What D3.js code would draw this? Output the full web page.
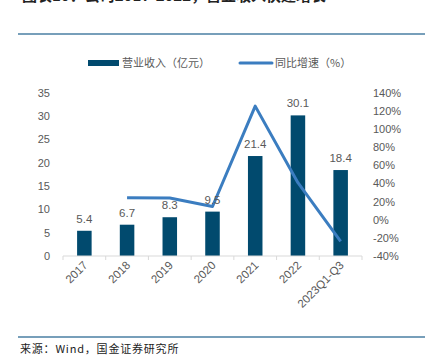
<!doctype html>
<html>
  <head>
    <meta charset="utf-8">
    <script src="https://cdnjs.cloudflare.com/ajax/libs/d3/7.8.5/d3.min.js"></script>
    <style>
      body { margin: 0; background: #fff; }
      svg { display: block; }
      text { font-family: "Liberation Sans", Arial, "Noto Sans CJK SC", sans-serif; fill: #595959; font-size: 11px; }
      .cjk { font-family: "Noto Sans CJK SC", sans-serif; }
    </style>
  </head>
  <body>
    <svg width="425" height="363"></svg>
    <script>
      var categories = ["2017", "2018", "2019", "2020", "2021", "2022", "2023Q1-Q3"];
      var revenue = [5.4, 6.7, 8.3, 9.5, 21.4, 30.1, 18.4];
      var growth = [null, 24.1, 23.9, 14.5, 125.0, 40.7, -24.0];
      var leftTicks = [0, 5, 10, 15, 20, 25, 30, 35];
      var rightTicks = [-40, -20, 0, 20, 40, 60, 80, 100, 120, 140];

      var svg = d3.select("svg");

      // title (cut off at the top in the source) and frame lines
      svg.append("text").attr("class", "cjk").attr("x", 22).attr("y", 1)
        .style("font-size", "15px").style("font-weight", "bold").style("fill", "#222")
        .text("图表10：公司2017-2022，营业收入快速增长");
      svg.append("line").attr("x1", 18).attr("x2", 425).attr("y1", 34).attr("y2", 34)
        .attr("stroke", "#4a7fa3").attr("stroke-width", 1.3);
      svg.append("line").attr("x1", 18).attr("x2", 425).attr("y1", 337).attr("y2", 337)
        .attr("stroke", "#4a7fa3").attr("stroke-width", 1.3);
      svg.append("text").attr("class", "cjk").attr("x", 20).attr("y", 353)
        .style("font-size", "11px").style("fill", "#222").style("letter-spacing", "0.8px")
        .text("来源：Wind，国金证券研究所");

      var x = d3.scaleBand().domain(categories).range([63, 362]).paddingInner(0.66).paddingOuter(0.33);
      var yL = d3.scaleLinear().domain([0, 35]).range([256, 92.5]);
      var yR = d3.scaleLinear().domain([-40, 140]).range([256, 92.5]);

      // left axis labels
      svg.append("g").selectAll("text").data(leftTicks).enter().append("text")
        .attr("x", 50).attr("y", d => yL(d) + 4).attr("text-anchor", "end").text(d => d);

      // right axis labels
      svg.append("g").selectAll("text").data(rightTicks).enter().append("text")
        .attr("x", 373).attr("y", d => yR(d) + 4).attr("text-anchor", "start").text(d => d + "%");

      // bars
      svg.append("g").selectAll("rect").data(revenue).enter().append("rect")
        .attr("x", (d, i) => x(categories[i]))
        .attr("width", x.bandwidth())
        .attr("y", d => yL(d))
        .attr("height", d => yL(0) - yL(d))
        .attr("fill", "#014a6e");

      // x axis
      svg.append("line").attr("x1", 63).attr("x2", 362).attr("y1", yL(0)).attr("y2", yL(0))
        .attr("stroke", "#d9d9d9").attr("stroke-width", 1);
      svg.append("g").selectAll("line").data(d3.range(categories.length + 1)).enter().append("line")
        .attr("x1", i => 63 + i * (299 / categories.length))
        .attr("x2", i => 63 + i * (299 / categories.length))
        .attr("y1", yL(0)).attr("y2", yL(0) + 4)
        .attr("stroke", "#d9d9d9");

      svg.append("g").selectAll("text").data(categories).enter().append("text")
        .attr("text-anchor", "end")
        .style("font-size", "11.5px")
        .attr("transform", d => "translate(" + (x(d) + x.bandwidth() / 2 + 4) + "," + (yL(0) + 10) + ") rotate(-45)")
        .text(d => d);

      // growth line
      var line = d3.line()
        .defined(d => d !== null)
        .x((d, i) => x(categories[i]) + x.bandwidth() / 2)
        .y(d => yR(d));
      svg.append("path").datum(growth).attr("d", line)
        .attr("fill", "none").attr("stroke", "#3b7dc0").attr("stroke-width", 3)
        .attr("stroke-linejoin", "round");

      // bar value labels
      svg.append("g").selectAll("text").data(revenue).enter().append("text")
        .attr("x", (d, i) => x(categories[i]) + x.bandwidth() / 2)
        .attr("y", d => yL(d) - 8)
        .attr("text-anchor", "middle")
        .style("font-size", "11.5px")
        .text(d => d.toFixed(1));

      // legend
      var lg = svg.append("g");
      lg.append("rect").attr("x", 88).attr("y", 60).attr("width", 31).attr("height", 6).attr("fill", "#014a6e");
      lg.append("text").attr("class", "cjk").attr("x", 122).attr("y", 67).style("font-size", "11px").text("营业收入（亿元）");
      lg.append("line").attr("x1", 240).attr("x2", 272).attr("y1", 63).attr("y2", 63)
        .attr("stroke", "#3b7dc0").attr("stroke-width", 3).attr("stroke-linecap", "round");
      lg.append("text").attr("class", "cjk").attr("x", 275).attr("y", 67).style("font-size", "11px").text("同比增速（%）");
    </script>
  </body>
</html>
